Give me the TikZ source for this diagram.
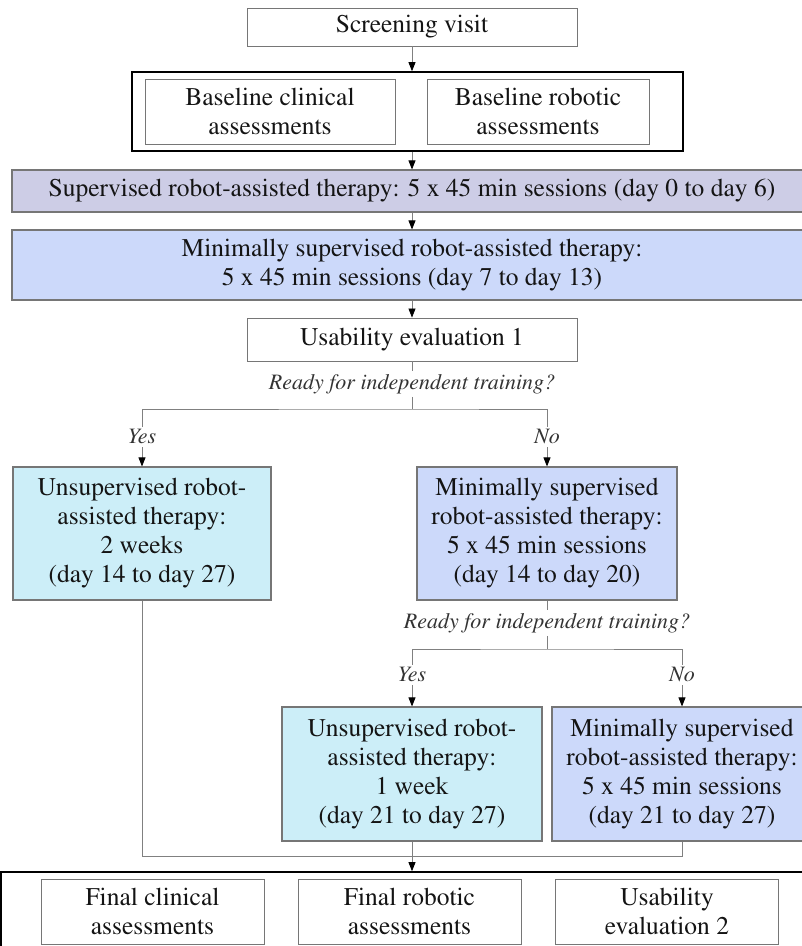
\documentclass[tikz,border=0pt]{standalone}
\usepackage[T1]{fontenc}
\renewcommand{\rmdefault}{ptm}
\usetikzlibrary{positioning, arrows.meta}

\definecolor{supfill}{RGB}{205,205,230}
\definecolor{minfill}{RGB}{204,217,250}
\definecolor{unsfill}{RGB}{204,238,248}
\definecolor{edgegray}{RGB}{118,118,118}

\begin{document}
\begin{tikzpicture}[x=1pt, y=-1pt,
  every node/.style={font=\fontfamily{ptm}\fontsize{25.5}{29}\selectfont, align=center, inner sep=0pt, text=black!92},
  plain/.style={draw=edgegray, line width=0.9pt, fill=white},
  phase/.style={draw=edgegray, line width=1.2pt},
  frame/.style={draw=black, line width=1.6pt},
  ask/.style={font=\fontfamily{ptm}\fontsize{22}{24}\selectfont\itshape, text=black!80, fill=white, inner sep=3pt},
  link/.style={draw=gray, line width=0.8pt},
  flow/.style={link, -{Triangle[length=9pt, width=7pt, color=black]}}]

  \useasboundingbox (0,0) rectangle (802,946);
  \clip (0,0) rectangle (802,946);

  % Start and baseline
  \node[plain, minimum width=330, minimum height=38] (screen) at (412,27) {Screening visit};
  \node[frame, minimum width=551, minimum height=79] (base) at (407.5,111.5) {};
  \node[plain, minimum width=250, minimum height=65] (baseclin) at (270,111.5) {Baseline clinical\\assessments};
  \node[plain, minimum width=222, minimum height=65] (baserob) at (538,111.5) {Baseline robotic\\assessments};

  % Therapy weeks 1 and 2
  \node[phase, fill=supfill, minimum width=800, minimum height=42] (sup) at (412,191)
    {Supervised robot-assisted therapy: 5 x 45 min sessions (day 0 to day 6)};
  \node[phase, fill=minfill, minimum width=800, minimum height=70] (minA) at (412,265)
    {Minimally supervised robot-assisted therapy:\\5 x 45 min sessions (day 7 to day 13)};
  \node[plain, minimum width=330, minimum height=43] (use1) at (412,339.5) {Usability evaluation 1};

  % First decision
  \node[ask] (ready1) at (412,384) {Ready for independent training?};
  \coordinate (split1) at (412,409);
  \node[ask] (yes1) at (142,437) {Yes};
  \node[ask] (no1) at (547,437) {No};
  \node[phase, fill=unsfill, minimum width=258, minimum height=133] (unsB) at (142,533.5)
    {Unsupervised robot-\\assisted therapy:\\2 weeks\\(day 14 to day 27)};
  \node[phase, fill=minfill, minimum width=260, minimum height=133] (minB) at (547,533.5)
    {Minimally supervised\\robot-assisted therapy:\\5 x 45 min sessions\\(day 14 to day 20)};

  % Second decision
  \node[ask] (ready2) at (547,623) {Ready for independent training?};
  \coordinate (split2) at (547,649);
  \node[ask] (yes2) at (412,675) {Yes};
  \node[ask] (no2) at (682,675) {No};
  \node[phase, fill=unsfill, minimum width=260, minimum height=134] (unsC) at (412,774)
    {Unsupervised robot-\\assisted therapy:\\1 week\\(day 21 to day 27)};
  \node[phase, fill=minfill, minimum width=260, minimum height=134] (minC) at (682,774)
    {Minimally supervised\\robot-assisted therapy:\\5 x 45 min sessions\\(day 21 to day 27)};

  % Final assessments
  \coordinate (merge) at (412,856);
  \node[frame, minimum width=822, minimum height=120] (final) at (412,932) {};
  \node[plain, minimum width=223, minimum height=65] (finclin) at (152.5,911.5) {Final clinical\\assessments};
  \node[plain, minimum width=223, minimum height=65] (finrob) at (409.5,911.5) {Final robotic\\assessments};
  \node[plain, minimum width=223, minimum height=65] (use2) at (667,911.5) {Usability\\evaluation 2};

  % Connectors
  \draw[flow] (screen) -- (screen |- base.north);
  \draw[flow] (screen |- base.south) -- (sup);
  \draw[flow] (sup) -- (minA);
  \draw[flow] (minA) -- (use1);
  \draw[link] (use1) -- (ready1);
  \draw[link] (ready1) -- (split1);
  \draw[link] (yes1.north) |- (split1) -| (no1.north);
  \draw[flow] (yes1) -- (unsB);
  \draw[flow] (no1) -- (minB);
  \draw[link] (minB) -- (ready2);
  \draw[link] (ready2) -- (split2);
  \draw[link] (yes2.north) |- (split2) -| (no2.north);
  \draw[flow] (yes2) -- (unsC);
  \draw[flow] (no2) -- (minC);
  \draw[link] (unsB.south) |- (merge) -| (minC.south);
  \draw[flow] (unsC) -- (final);
\end{tikzpicture}
\end{document}
